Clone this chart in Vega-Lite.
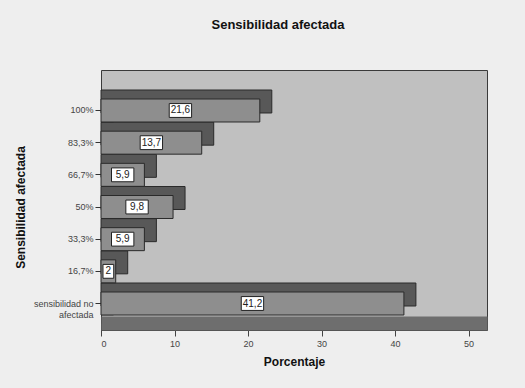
{
  "$schema": "https://vega.github.io/schema/vega-lite/v6.json",
  "autosize": {"type": "none"},
  "width": 386,
  "height": 260,
  "padding": {"left": 101, "top": 70, "right": 38, "bottom": 58},
  "background": "#eeeeee",
  "title": {"text": "Sensibilidad afectada", "anchor": "middle", "frame": "group", "dx": -16, "offset": 38, "fontSize": 13, "font": "Liberation Sans", "fontWeight": "bold", "color": "#111"},
  "config": {
    "view": {"fill": "#c0c0c0", "stroke": "#3a3a3a", "strokeWidth": 1},
    "font": "Liberation Sans"
  },
  "data": {"values": [
    {"cat": "100%", "value": 21.6, "label": "21,6"},
    {"cat": "83,3%", "value": 13.7, "label": "13,7"},
    {"cat": "66,7%", "value": 5.9, "label": "5,9"},
    {"cat": "50%", "value": 9.8, "label": "9,8"},
    {"cat": "33,3%", "value": 5.9, "label": "5,9"},
    {"cat": "16,7%", "value": 2, "label": "2"},
    {"cat": "sensibilidad no afectada", "value": 41.2, "label": "41,2"}
  ]},
  "encoding": {
    "y": {"field": "cat", "type": "nominal",
      "scale": {"domain": ["100%","83,3%","66,7%","50%","33,3%","16,7%","sensibilidad no afectada"], "range": [29, 245], "paddingInner": 0.285, "paddingOuter": 0},
      "axis": {"title": "Sensibilidad afectada", "titleFontSize": 12, "titleFontWeight": "bold", "titleColor": "#111", "titlePadding": 6,
        "labelExpr": "datum.value == 'sensibilidad no afectada' ? ['sensibilidad no', 'afectada'] : datum.value",
        "labelFontSize": 9, "labelColor": "#444", "labelPadding": 2, "tickSize": 12, "tickColor": "#333",
        "domainWidth": 12, "domainColor": "#5a5a5a", "offset": -6, "grid": false}
    },
    "x": {"field": "value", "type": "quantitative",
      "scale": {"domain": [0, 52.5], "nice": false},
      "axis": {"title": "Porcentaje", "titleFontSize": 12, "titleFontWeight": "bold", "titleColor": "#111", "titlePadding": 8,
        "values": [0, 10, 20, 30, 40, 50], "format": "d", "labelFontSize": 9, "labelColor": "#444", "labelPadding": 3,
        "tickSize": 13, "tickColor": "#444", "domainWidth": 14, "domainColor": "#6e6e6e", "offset": -7, "grid": false}
    }
  },
  "layer": [
    {"mark": {"type": "bar", "color": "#585858", "stroke": "#2a2a2a", "strokeWidth": 1, "xOffset": 12, "x2Offset": 0, "yOffset": -9, "y2Offset": -9},
     "encoding": {"x2": {"datum": 0}}},
    {"mark": {"type": "bar", "color": "#8e8e8e", "stroke": "#2a2a2a", "strokeWidth": 1}},
    {"mark": {"type": "point", "size": 500, "filled": true, "fill": "#ffffff", "stroke": "#222", "strokeWidth": 1, "opacity": 1},
     "encoding": {
       "x": {"field": "value", "type": "quantitative", "stack": "zero", "bandPosition": 0.5},
       "shape": {"condition": {"test": "datum.label == '2'", "value": "M-0.48,-0.62H0.48V0.62H-0.48Z"}, "value": "M-1,-0.62H1V0.62H-1Z"}
     }},
    {"mark": {"type": "text", "fontSize": 10, "color": "#222"},
     "encoding": {"text": {"field": "label"}, "x": {"field": "value", "type": "quantitative", "stack": "zero", "bandPosition": 0.5}}}
  ]
}
